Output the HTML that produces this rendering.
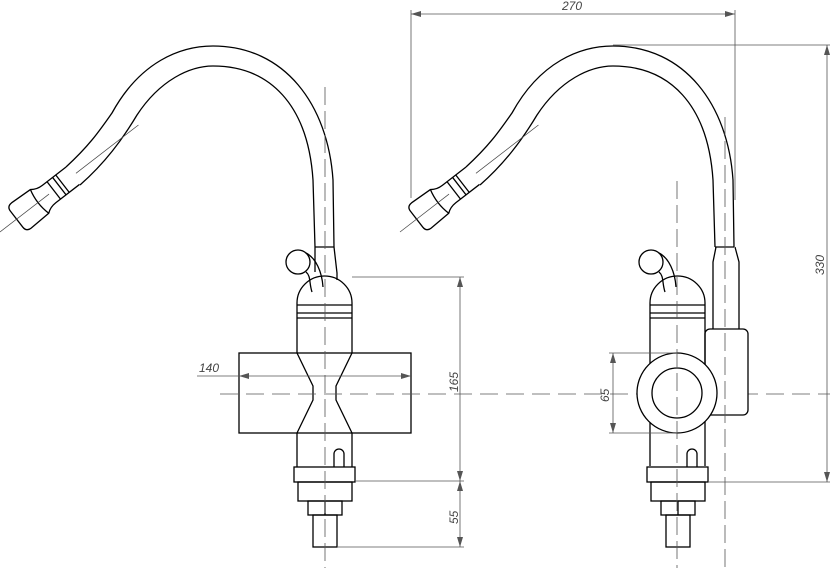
<!DOCTYPE html>
<html><head><meta charset="utf-8"><style>
html,body{margin:0;padding:0;background:#fff;}
svg{display:block;}
text{font-family:"Liberation Sans",sans-serif;font-style:italic;font-size:12px;fill:#444;}
</style></head><body>
<svg width="830" height="570" viewBox="0 0 830 570" xmlns="http://www.w3.org/2000/svg">
<defs>
<marker id="ar" viewBox="0 0 10 6" refX="10" refY="3" markerWidth="10" markerHeight="6" orient="auto-start-reverse" markerUnits="userSpaceOnUse"><path d="M0,0 L10,3 L0,6 Z" fill="#555"/></marker>
<g id="spout" fill="none" stroke="#000" stroke-width="1.3">
<path d="M66,167 C90,145 100,130 112,113 C140,62 180,46 213,46 C285,46 328,105 333,180 L334,247"/>
<path d="M80,185 C105,163 122,140 137,115 C160,80 190,66 213,66 C270,66 308,105 313,180 L315,247"/>
<line x1="315" y1="247" x2="334" y2="247"/>
<g transform="translate(0,232) rotate(-37.7)">
<path d="M92,-11 L62,-11 Q55,-11 50,-15 L27,-16 Q21,-16 21,-10 L21,10 Q21,16 27,16 L50,15 Q55,11 62,11 L92,11"/>
<path d="M50,-15 Q46,0 50,15"/>
<line x1="68" y1="-11" x2="68" y2="11"/>
<line x1="75" y1="-11" x2="75" y2="11"/>
<line x1="79" y1="-11" x2="79" y2="11"/>
<g stroke="#444" stroke-width="0.7"><line x1="0" y1="0" x2="62" y2="0"/><line x1="96" y1="0" x2="175" y2="0"/></g>
</g>
</g>
<g id="handle" fill="none" stroke="#000" stroke-width="1.3">
<circle cx="298" cy="262" r="12" fill="#fff"/>
<path d="M306,253 C316,258 322,272 323,287"/>
<path d="M306,272 C311,276 309,283 312,292"/>
</g>
<g id="lower" fill="none" stroke="#000" stroke-width="1.3">
<path d="M297,303 A27.5,27 0 0 1 352,303"/>
<line x1="297" y1="305" x2="352" y2="305"/>
<line x1="297" y1="313" x2="352" y2="313"/>
<line x1="297" y1="318" x2="352" y2="318"/>
<path d="M334,467 L334,454 A5,5 0 0 1 344,454 L344,467" fill="#fff"/>
<rect x="294" y="467" width="61" height="15"/>
<rect x="298" y="482" width="54" height="19"/>
<rect x="308" y="501" width="34" height="14"/>
<line x1="325" y1="501" x2="325" y2="515"/>
<rect x="313" y="515" width="24" height="32"/>
</g>
</defs>

<!-- LEFT VIEW -->
<use href="#spout"/>
<path d="M334,247 L337,273 L337,280" fill="none" stroke="#000" stroke-width="1.3"/>
<path d="M315,247 L315,272" fill="none" stroke="#000" stroke-width="1.3"/>
<use href="#handle"/>
<use href="#lower"/>
<g fill="none" stroke="#000" stroke-width="1.3">
<line x1="297" y1="303" x2="297" y2="353"/>
<line x1="352" y1="303" x2="352" y2="353"/>
<rect x="239" y="353" width="172" height="80"/>
<path d="M297,353 L313,386 L313,400 L297,433"/>
<path d="M352,353 L336,386 L336,400 L352,433"/>
<line x1="297" y1="433" x2="297" y2="467"/>
<line x1="352" y1="433" x2="352" y2="467"/>
</g>
<g stroke="#555" stroke-width="0.8" fill="none">
<line x1="325" y1="87" x2="325" y2="568" stroke-dasharray="18,6"/>
<line x1="220" y1="394" x2="830" y2="394" stroke-dasharray="18,8"/>
<line x1="197" y1="376" x2="239" y2="376"/>
<line x1="239" y1="376" x2="411" y2="376" marker-start="url(#ar)" marker-end="url(#ar)"/>
<line x1="352" y1="277" x2="464" y2="277"/>
<line x1="355" y1="481" x2="464" y2="481"/>
<line x1="337" y1="547" x2="464" y2="547"/>
<line x1="460" y1="277" x2="460" y2="481" marker-start="url(#ar)" marker-end="url(#ar)"/>
<line x1="460" y1="481" x2="460" y2="547" marker-start="url(#ar)" marker-end="url(#ar)"/>
</g>
<text x="199" y="372">140</text>
<text transform="translate(458,392) rotate(-90)">165</text>
<text transform="translate(458,524) rotate(-90)">55</text>

<!-- RIGHT VIEW -->
<g transform="translate(400,0)"><use href="#spout"/></g>
<g transform="translate(353,0)"><use href="#handle"/><use href="#lower"/></g>
<g fill="none" stroke="#000" stroke-width="1.3">
<path d="M716,247 L713,262 L713,329"/>
<path d="M735,247 L739,262 L739,329"/>
<rect x="705" y="329" width="43" height="86" rx="5" fill="#fff"/>
<line x1="650" y1="303" x2="650" y2="466"/>
<line x1="705" y1="303" x2="705" y2="466"/>
<circle cx="677" cy="393" r="40" fill="#fff"/>
<circle cx="677" cy="393" r="25"/>
</g>
<g stroke="#555" stroke-width="0.8" fill="none">
<line x1="677" y1="181" x2="677" y2="568" stroke-dasharray="18,6"/>
<line x1="725" y1="117" x2="725" y2="568" stroke-dasharray="18,6"/>
<line x1="609" y1="353" x2="677" y2="353"/>
<line x1="609" y1="433" x2="677" y2="433"/>
<line x1="613" y1="353" x2="613" y2="433" marker-start="url(#ar)" marker-end="url(#ar)"/>
<line x1="411" y1="10" x2="411" y2="198"/>
<line x1="735" y1="10" x2="735" y2="200"/>
<line x1="411" y1="14" x2="735" y2="14" marker-start="url(#ar)" marker-end="url(#ar)"/>
<line x1="613" y1="45" x2="830" y2="45"/>
<line x1="708" y1="482" x2="830" y2="482"/>
<line x1="827" y1="45" x2="827" y2="482" marker-start="url(#ar)" marker-end="url(#ar)"/>
</g>
<text x="562" y="10">270</text>
<text transform="translate(609,402) rotate(-90)">65</text>
<text transform="translate(824,275) rotate(-90)">330</text>
</svg>
</body></html>
